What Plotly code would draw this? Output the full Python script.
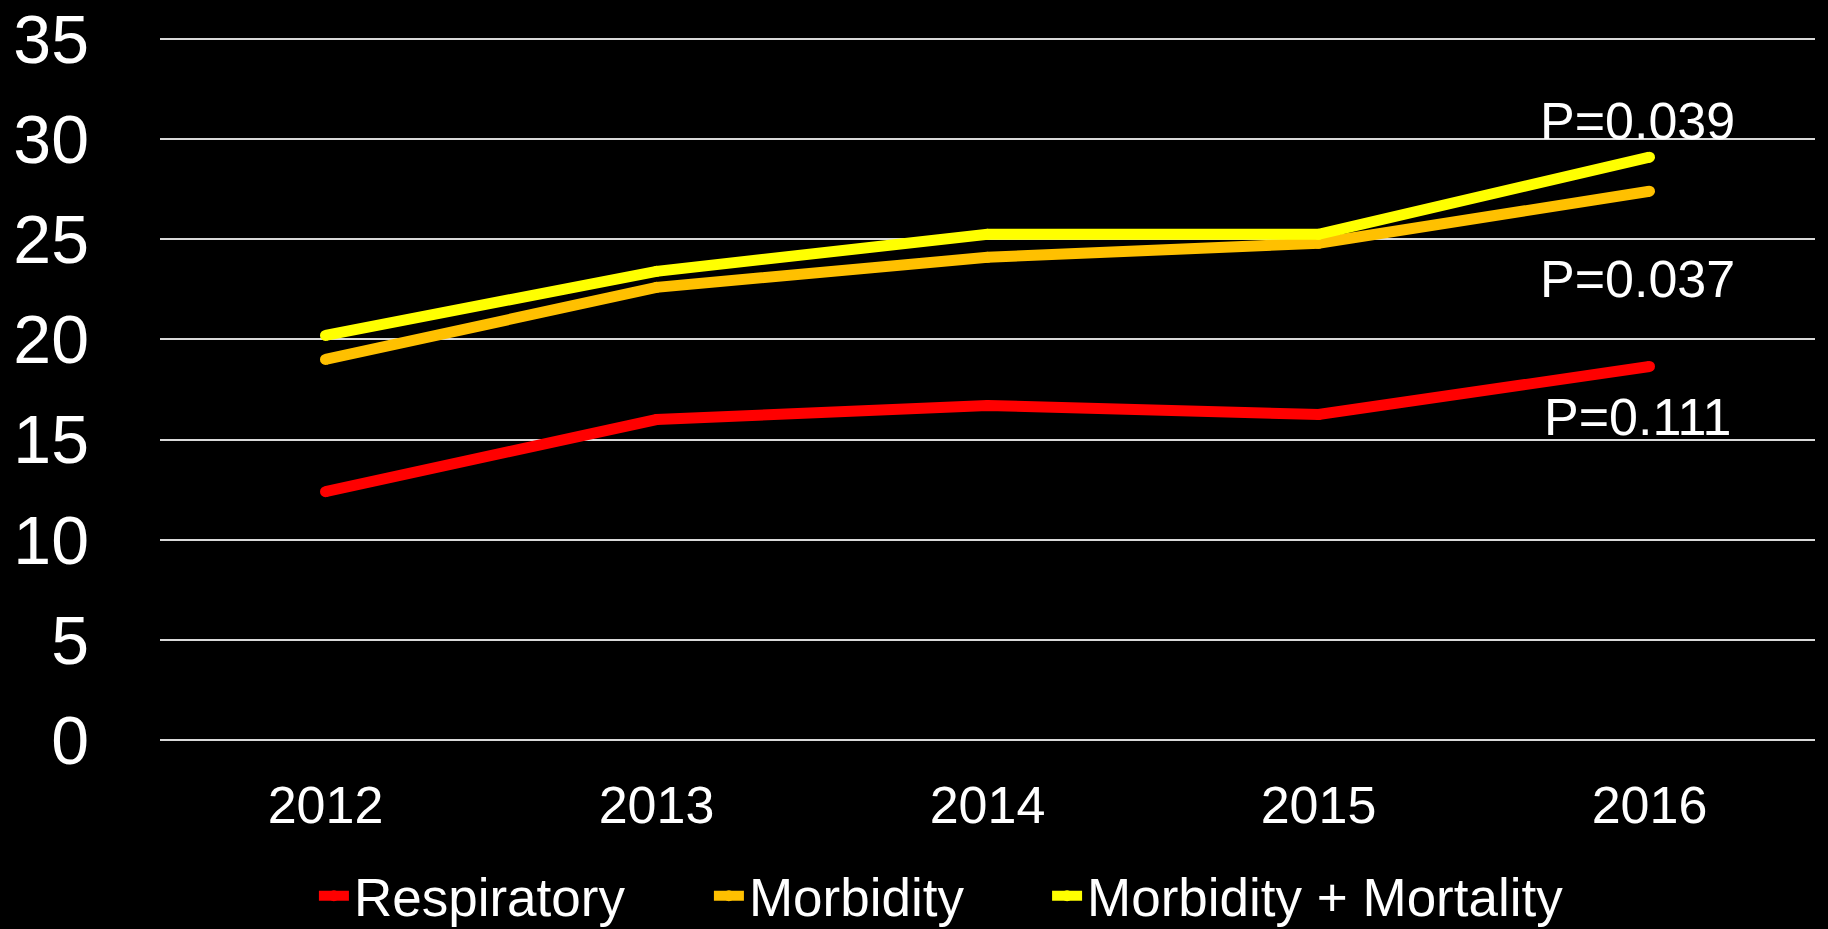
import plotly.graph_objects as go

# data
years = [2012, 2013, 2014, 2015, 2016]
respiratory = [12.4, 16.0, 16.7, 16.25, 18.65]
morbidity = [19.0, 22.6, 24.1, 24.8, 27.4]
morb_mort = [20.2, 23.4, 25.25, 25.25, 29.1]
p_values = ["P=0.039", "P=0.037", "P=0.111"]

FONT = "Arial, Liberation Sans, sans-serif"
LW = 11

series = [
    ("Respiratory", respiratory, "#FF0000", "legend"),
    ("Morbidity", morbidity, "#FFC000", "legend"),
    ("Morbidity + Mortality", morb_mort, "#FFFF00", "legend2"),
]

fig = go.Figure()
for name, vals, color, leg in series:
    # markers the size of the line give it round ends and joins
    fig.add_trace(go.Scatter(
        x=years, y=vals, name=name, mode="lines+markers", legend=leg,
        line=dict(color=color, width=LW),
        marker=dict(color=color, size=LW),
    ))

# p-value labels next to the 2016 points
label_y = [30.9, 23.0, 16.15]
for txt, yy in zip(p_values, label_y):
    fig.add_annotation(x=years[-1], y=yy, text=txt, showarrow=False,
                       xanchor="center", yanchor="middle", xshift=-12,
                       font=dict(family=FONT, size=52, color="white"))

leg_common = dict(orientation="h", y=-0.218, yanchor="middle",
                  font=dict(size=53, color="white"), bgcolor="rgba(0,0,0,0)")

fig.update_layout(
    width=1828, height=929,
    paper_bgcolor="black", plot_bgcolor="black",
    margin=dict(l=160, r=13, t=37, b=187, autoexpand=False),
    font=dict(family=FONT, color="white"),
    showlegend=True,
    legend=dict(x=0.093, xanchor="left", entrywidth=350, entrywidthmode="pixels", **leg_common),
    legend2=dict(x=0.536, xanchor="left", **leg_common),
)
fig.update_xaxes(range=[2011.5, 2016.5], dtick=1, showgrid=False, zeroline=False, showline=False,
                 ticks="", ticklabelstandoff=28,
                 tickfont=dict(family=FONT, size=52, color="white"))
fig.update_yaxes(range=[-0.1, 35.1], tickvals=[0, 5, 10, 15, 20, 25, 30, 35],
                 showgrid=True, gridcolor="#d9d9d9", gridwidth=1.5,
                 zeroline=False, showline=False, ticks="", ticklabelstandoff=70,
                 tickfont=dict(family=FONT, size=68, color="white"))

fig.write_html("out.html", config={"displayModeBar": False},
               post_script="document.body.style.margin='0';")
